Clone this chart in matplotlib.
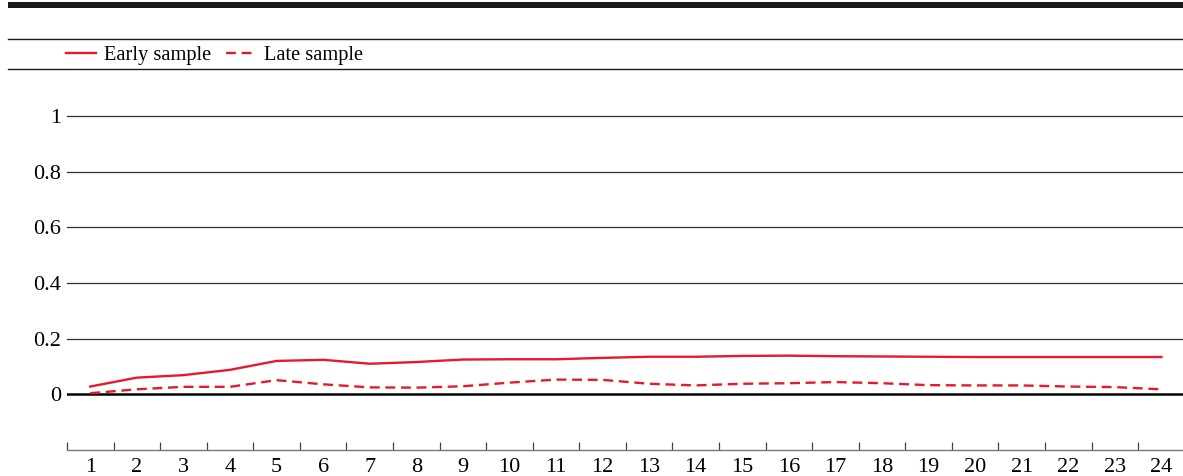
import matplotlib
matplotlib.use("Agg")
import matplotlib.pyplot as plt
from matplotlib.lines import Line2D
from matplotlib.patches import Rectangle
import numpy as np

plt.rcParams['font.family'] = ['Liberation Serif', 'DejaVu Serif']

horizons = list(range(1, 25))
early_sample = [0.028, 0.060, 0.069, 0.088, 0.120, 0.124, 0.110, 0.116,
                0.125, 0.126, 0.126, 0.131, 0.135, 0.135, 0.138, 0.139,
                0.137, 0.136, 0.135, 0.134, 0.134, 0.134, 0.134, 0.134]
late_sample = [0.004, 0.018, 0.027, 0.027, 0.051, 0.036, 0.025, 0.024,
               0.029, 0.042, 0.053, 0.052, 0.038, 0.032, 0.038, 0.040,
               0.044, 0.040, 0.033, 0.032, 0.032, 0.028, 0.026, 0.018]
y_ticks = [0, 0.2, 0.4, 0.6, 0.8, 1]
y_tick_labels = ['0', '0.2', '0.4', '0.6', '0.8', '1']

W, H = 1183, 476
RED = '#e8192a'

fig = plt.figure(figsize=(W / 100, H / 100), dpi=100)

# plot area in pixel coordinates
left, right = 67, 1184.7
top, bottom = 116, 450
ax = fig.add_axes([left / W, 1 - bottom / H, (right - left) / W, (bottom - top) / H])

ax.plot(horizons, early_sample, color=RED, lw=1.7, solid_joinstyle='round',
        label='Early sample', zorder=3)
ax.plot(horizons, late_sample, color=RED, lw=1.7, dashes=(4.2, 2.4),
        label='Late sample', zorder=3)

ax.set_xlim(0.5, 24.5)
ax.set_ylim(-0.2, 1.0)

for v in y_ticks[1:]:
    ax.axhline(v, color='#333333', lw=0.9, zorder=1, clip_on=False)
ax.axhline(0, color='black', lw=1.8, zorder=2)

ax.set_yticks(y_ticks)
ax.set_yticklabels(y_tick_labels, fontsize=16)
ax.tick_params(axis='y', length=0, pad=4)

ax.set_xticks(horizons)
ax.set_xticklabels([str(h) for h in horizons], fontsize=16)
ax.set_xticks(np.arange(0.5, 24.5, 1.0), minor=True)
ax.tick_params(axis='x', which='major', length=0, pad=6)
ax.tick_params(axis='x', which='minor', length=5.5, width=0.9,
               direction='in', color='#444444')

for side in ('top', 'right', 'left'):
    ax.spines[side].set_visible(False)
ax.spines['bottom'].set_color('#777777')
ax.spines['bottom'].set_linewidth(1.0)

# header rules and legend strip
def fy(py):
    return 1 - py / H

fig.add_artist(Rectangle((8 / W, fy(7.5)), (W - 8) / W, 5.8 / H,
                         transform=fig.transFigure, color='#1a1a1a', lw=0))
for py in (38.5, 69):
    fig.add_artist(Line2D([8 / W, 1], [fy(py), fy(py)], transform=fig.transFigure,
                          color='#1a1a1a', lw=1.0))

handles, labels = ax.get_legend_handles_labels()
fig.legend(handles, labels, loc='center left', bbox_to_anchor=(66 / W, fy(55.5)),
           ncol=2, frameon=False, fontsize=14.7, handlelength=1.45,
           handletextpad=0.4, columnspacing=0.75, borderpad=0, borderaxespad=0)

fig.savefig('out.png', dpi=100)
